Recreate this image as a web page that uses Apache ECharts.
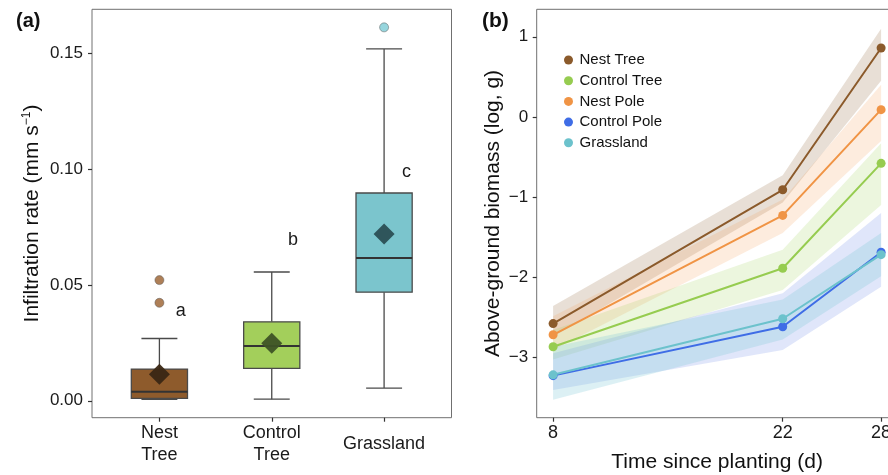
<!DOCTYPE html>
<html>
<head>
<meta charset="utf-8">
<script src="https://cdn.jsdelivr.net/npm/echarts@6/dist/echarts.min.js"></script>
<style>
  html, body { margin: 0; padding: 0; background: #fff; }
  #chart { width: 888px; height: 475px; }
</style>
</head>
<body>
<div id="chart"></div>
<script>
const FONT = '"Liberation Sans", Arial, sans-serif';

// ---- panel (a): infiltration rate boxplots ----
const sites = ['Nest Tree', 'Control Tree', 'Grassland'];
const siteLabels = ['Nest\nTree', 'Control\nTree', 'Grassland'];
const boxMin = [0.0006, 0.0007, 0.0055];
const boxQ1 = [0.0010, 0.0140, 0.0469];
const boxMed = [0.0039, 0.0236, 0.0616];
const boxQ3 = [0.0137, 0.0341, 0.0897];
const boxMax = [0.0269, 0.0556, 0.1519];
const boxMean = [0.0115, 0.0248, 0.0720];
const outlierSite = [1, 1, 3];
const outlierVal = [0.0521, 0.0423, 0.1612];
const sigLetters = ['a', 'b', 'c'];
const letterX = [1.19, 2.19, 3.2];
const letterY = [0.0388, 0.0694, 0.0989];
const infilTicks = [0, 0.05, 0.10, 0.15];

const siteFill = ['#8e5b2c', '#a3cf5b', '#7bc5cd'];
const meanFill = ['#3a2714', '#3e5326', '#2b4f54'];
const outlierFill = ['#9a5f2d', '#9a5f2d', '#7ccbd4'];

// ---- panel (b): biomass over time ----
const days = [8, 22, 28];
const groups = ['Nest Tree', 'Control Tree', 'Nest Pole', 'Control Pole', 'Grassland'];
const nestTree = [-2.58, -0.91, 0.86];
const controlTree = [-2.87, -1.89, -0.58];
const nestPole = [-2.72, -1.23, 0.09];
const controlPole = [-3.23, -2.62, -1.69];
const grassland = [-3.22, -2.52, -1.72];
// confidence ribbons (lower / upper)
const nestTreeLo = [-2.74, -1.07, 0.45];
const nestTreeHi = [-2.36, -0.73, 1.10];
const controlTreeLo = [-3.03, -2.16, -1.10];
const controlTreeHi = [-2.66, -1.66, -0.33];
const nestPoleLo = [-2.91, -1.45, -0.30];
const nestPoleHi = [-2.49, -1.03, 0.40];
const controlPoleLo = [-3.41, -2.91, -2.12];
const controlPoleHi = [-2.95, -2.20, -1.20];
const grasslandLo = [-3.53, -2.78, -1.99];
const grasslandHi = [-2.87, -2.28, -1.45];
const biomassTicks = [-3, -2, -1, 0, 1];
const dayTicks = [8, 22, 28];

const groupLines = [nestTree, controlTree, nestPole, controlPole, grassland];
const groupLo = [nestTreeLo, controlTreeLo, nestPoleLo, controlPoleLo, grasslandLo];
const groupHi = [nestTreeHi, controlTreeHi, nestPoleHi, controlPoleHi, grasslandHi];
const groupColor = ['#8b5a2b', '#96cc50', '#f09445', '#3f6de6', '#6cc2cc'];
const bandFill = [
  'rgba(150,110,70,0.22)',
  'rgba(160,210,90,0.20)',
  'rgba(245,160,90,0.20)',
  'rgba(100,130,230,0.20)',
  'rgba(130,200,215,0.28)'
];
// draw order so grassland sits on top of control pole
const drawOrder = [0, 2, 1, 3, 4];

const chart = echarts.init(document.getElementById('chart'), null, { renderer: 'canvas' });

const renderBox = (params, api) => {
  const x = api.value(0);
  const lo = api.coord([x, api.value(1)]);
  const q1 = api.coord([x, api.value(2)]);
  const med = api.coord([x, api.value(3)]);
  const q3 = api.coord([x, api.value(4)]);
  const hi = api.coord([x, api.value(5)]);
  const halfBox = api.size([0.5, 0])[0] / 2;
  const halfCap = api.size([0.32, 0])[0] / 2;
  const stroke = { stroke: '#4a4a4a', lineWidth: 1.3 };
  const cx = q1[0];
  return {
    type: 'group',
    children: [
      { type: 'line', shape: { x1: cx, y1: q1[1], x2: cx, y2: lo[1] }, style: stroke },
      { type: 'line', shape: { x1: cx - halfCap, y1: lo[1], x2: cx + halfCap, y2: lo[1] }, style: stroke },
      { type: 'line', shape: { x1: cx, y1: q3[1], x2: cx, y2: hi[1] }, style: stroke },
      { type: 'line', shape: { x1: cx - halfCap, y1: hi[1], x2: cx + halfCap, y2: hi[1] }, style: stroke },
      {
        type: 'rect',
        shape: { x: cx - halfBox, y: q3[1], width: halfBox * 2, height: q1[1] - q3[1] },
        style: { fill: siteFill[params.dataIndex], stroke: '#4a4a4a', lineWidth: 1.3 }
      },
      { type: 'line', shape: { x1: cx - halfBox, y1: med[1], x2: cx + halfBox, y2: med[1] }, style: { stroke: '#333', lineWidth: 2 } }
    ]
  };
};

const makeBand = (k) => ({
  type: 'custom',
  name: 'band ' + groups[k],
  xAxisIndex: 1,
  yAxisIndex: 1,
  silent: true,
  z: 1,
  data: days.map((d, i) => [d, groupLo[k][i], groupHi[k][i]]),
  encode: { x: 0, y: [1, 2] },
  renderItem: (params, api) => {
    if (params.dataIndex !== 0) return null;
    const pts = [];
    days.forEach((d, i) => pts.push(api.coord([d, groupHi[k][i]])));
    for (let i = days.length - 1; i >= 0; i--) pts.push(api.coord([days[i], groupLo[k][i]]));
    return { type: 'polygon', shape: { points: pts }, style: { fill: bandFill[k] } };
  }
});

const makeLine = (k) => ({
  type: 'line',
  name: groups[k],
  xAxisIndex: 1,
  yAxisIndex: 1,
  z: 3,
  data: days.map((d, i) => [d, groupLines[k][i]]),
  symbol: 'circle',
  symbolSize: 9,
  itemStyle: { color: groupColor[k] },
  lineStyle: { color: groupColor[k], width: 2 }
});

const tickStyle = { show: true, length: 4, lineStyle: { color: '#333', width: 1.2 } };
const hiddenLine = { show: false, onZero: false };

const option = {
  animation: false,
  backgroundColor: '#fff',
  textStyle: { fontFamily: FONT },
  title: [
    { text: '(a)', left: 16, top: 11, padding: 0, textStyle: { fontSize: 20, fontWeight: 'bold', color: '#111', fontFamily: FONT } },
    { text: '(b)', left: 482, top: 11, padding: 0, textStyle: { fontSize: 21, fontWeight: 'bold', color: '#111', fontFamily: FONT } }
  ],
  legend: {
    data: groups,
    orient: 'vertical',
    left: 564,
    top: 52.5,
    icon: 'circle',
    itemWidth: 12,
    itemHeight: 9,
    itemGap: 5.7,
    padding: 0,
    textStyle: { fontSize: 15, color: '#111', fontFamily: FONT }
  },
  grid: [
    { left: 92, top: 9.3, width: 359.5, height: 408.4, show: true, borderColor: '#707070', borderWidth: 1, containLabel: false, outerBoundsMode: 'none' },
    { left: 536.7, top: 9.3, width: 360.8, height: 408.4, show: true, borderColor: '#707070', borderWidth: 1, containLabel: false, outerBoundsMode: 'none' }
  ],
  xAxis: [
    {
      gridIndex: 0, type: 'value', min: 0.4, max: 3.6, position: 'bottom',
      axisLine: hiddenLine,
      splitLine: { show: false },
      axisTick: Object.assign({ customValues: [1, 2, 3] }, tickStyle),
      axisLabel: {
        customValues: [1, 2, 3],
        formatter: (v) => siteLabels[Math.round(v) - 1],
        fontSize: 18, lineHeight: 21.7, color: '#1a1a1a', verticalAlign: 'middle', margin: 26.3, fontFamily: FONT
      }
    },
    {
      gridIndex: 1, type: 'value', min: 7, max: 29, position: 'bottom',
      axisLine: hiddenLine,
      splitLine: { show: false },
      axisTick: Object.assign({ customValues: dayTicks }, tickStyle),
      axisLabel: {
        customValues: dayTicks,
        fontSize: 18, color: '#1a1a1a', verticalAlign: 'middle', margin: 15.6, fontFamily: FONT
      },
      name: 'Time since planting (d)',
      nameLocation: 'middle',
      nameGap: 34,
      nameTextStyle: { fontSize: 21, color: '#111', fontFamily: FONT, verticalAlign: 'top' }
    }
  ],
  yAxis: [
    {
      gridIndex: 0, type: 'value', min: -0.0073, max: 0.169, position: 'left',
      axisLine: hiddenLine,
      splitLine: { show: false },
      axisTick: Object.assign({ customValues: infilTicks }, tickStyle),
      axisLabel: {
        customValues: infilTicks,
        formatter: (v) => v.toFixed(2),
        fontSize: 17, color: '#1a1a1a', margin: 9, fontFamily: FONT
      },
      name: '{t|Infiltration rate (mm s}{s|\u22121}{t|)}',
      nameLocation: 'middle',
      nameGap: 49,
      nameTextStyle: {
        rich: {
          t: { fontSize: 21, lineHeight: 22, color: '#111', fontFamily: FONT },
          s: { fontSize: 12, color: '#111', fontFamily: FONT, verticalAlign: 'top' }
        }
      }
    },
    {
      gridIndex: 1, type: 'value', min: -3.755, max: 1.343, position: 'left',
      axisLine: hiddenLine,
      splitLine: { show: false },
      axisTick: Object.assign({ customValues: biomassTicks }, tickStyle),
      axisLabel: {
        customValues: biomassTicks,
        formatter: (v) => (v < 0 ? '\u2212' + Math.abs(v) : String(v)),
        fontSize: 17, color: '#1a1a1a', margin: 8.5, fontFamily: FONT
      },
      name: 'Above-ground biomass (log, g)',
      nameLocation: 'middle',
      nameGap: 33,
      nameTextStyle: { fontSize: 21, color: '#111', fontFamily: FONT }
    }
  ],
  series: [
    {
      type: 'custom',
      name: 'boxes',
      xAxisIndex: 0,
      yAxisIndex: 0,
      data: sites.map((s, i) => [i + 1, boxMin[i], boxQ1[i], boxMed[i], boxQ3[i], boxMax[i]]),
      encode: { x: 0, y: [1, 2, 3, 4, 5] },
      renderItem: renderBox,
      z: 2
    },
    {
      type: 'scatter',
      name: 'means',
      xAxisIndex: 0,
      yAxisIndex: 0,
      symbol: 'diamond',
      symbolSize: 21,
      data: boxMean.map((m, i) => [i + 1, m]),
      itemStyle: { color: (p) => meanFill[p.dataIndex], opacity: 0.95 },
      z: 4
    },
    {
      type: 'scatter',
      name: 'outliers',
      xAxisIndex: 0,
      yAxisIndex: 0,
      symbolSize: 9,
      data: outlierVal.map((v, i) => [outlierSite[i], v]),
      itemStyle: {
        color: (p) => outlierFill[p.dataIndex],
        borderColor: '#555',
        borderWidth: 0.6
      },
      z: 4
    },
    {
      type: 'custom',
      name: 'letters',
      xAxisIndex: 0,
      yAxisIndex: 0,
      data: sigLetters.map((l, i) => [letterX[i], letterY[i]]),
      encode: { x: 0, y: 1 },
      renderItem: (params, api) => {
        const p = api.coord([api.value(0), api.value(1)]);
        return {
          type: 'text',
          x: p[0],
          y: p[1],
          style: {
            text: sigLetters[params.dataIndex],
            fill: '#1a1a1a',
            fontSize: 18,
            fontFamily: FONT,
            align: 'center',
            verticalAlign: 'middle'
          }
        };
      },
      z: 5
    },
    ...drawOrder.map(makeBand),
    ...drawOrder.map(makeLine)
  ]
};

chart.setOption(option);
</script>
</body>
</html>
